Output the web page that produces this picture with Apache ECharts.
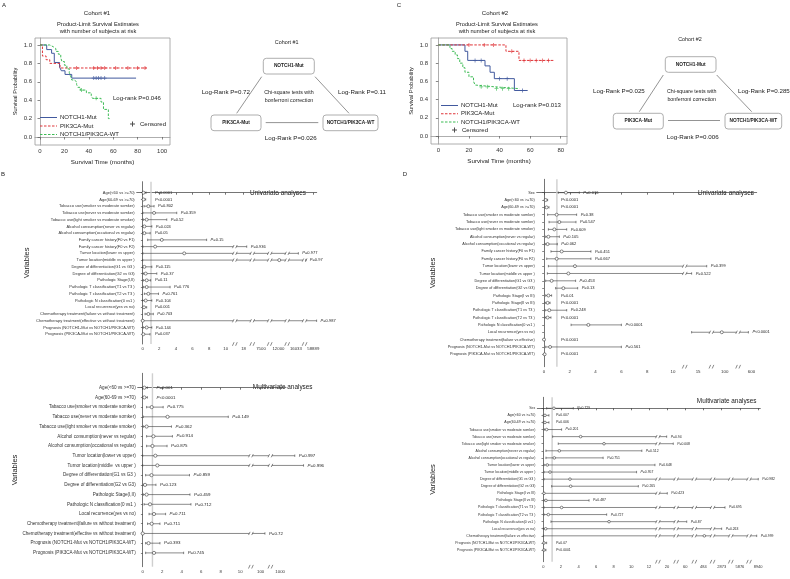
<!DOCTYPE html>
<html><head><meta charset="utf-8">
<script src="https://cdn.jsdelivr.net/npm/echarts@6/dist/echarts.min.js"></script>
<style>html,body{margin:0;padding:0;background:#fff}#c{width:790px;height:579px}</style>
</head><body><div id="c"></div>
<script>
const FF = '"Liberation Sans", Arial, sans-serif';

// ---------- Kaplan-Meier data (time in months, survival probability) ----------
const kmA_notch = [[0,1],[5.5,0.95],[9.5,0.91],[11.7,0.81],[16,0.76],[17.5,0.72],[20.5,0.68],[26,0.64],[78.7,0.64]];
const kmA_pik3ca = [[0,1],[2,0.88],[5,0.84],[8,0.80],[16.4,0.75],[87.4,0.75]];
const kmA_wt = [[0,1],[8,0.98],[11,0.96],[13,0.93],[15,0.9],[17,0.86],[18,0.82],[20,0.78],[22,0.74],[24,0.7],[25,0.66],[26,0.62],[28,0.6],[30,0.57],[31,0.54],[33,0.51],[38,0.48],[42,0.45],[43,0.42],[50,0.38],[52,0.3],[56,0.2],[57,0.2]];
const kmA_censor_notch = [[44,0.64],[46,0.64],[48,0.64],[50,0.64],[53,0.64]];
const kmA_censor_pik3ca = [[30,0.75],[44,0.75],[47,0.75],[50,0.75],[53,0.75],[62,0.75],[72,0.75],[80,0.75],[86,0.75]];
const kmA_censor_wt = [[34,0.51],[46,0.42]];

const kmC_notch = [[0,1],[17.4,0.93],[19.2,0.83],[30.5,0.77],[33.8,0.7],[36.6,0.63],[49.7,0.5],[58.4,0.5]];
const kmC_pik3ca = [[0,1],[44.2,0.93],[52.7,0.83],[76,0.83]];
const kmC_wt = [[0,1],[7.6,0.96],[9,0.93],[11,0.89],[12.5,0.85],[14,0.8],[16,0.75],[17.4,0.7],[20,0.65],[23,0.6],[24,0.56],[25,0.54],[37,0.52],[53,0.52]];
const kmC_censor_notch = [[24,0.83],[28,0.83],[40,0.63],[45,0.63],[55,0.5]];
const kmC_censor_pik3ca = [[20,1],[30,1],[36,1],[48,0.93],[56,0.83],[60,0.83],[64,0.83],[68,0.83],[72,0.83]];
const kmC_censor_wt = [[28,0.54],[32,0.54],[38,0.52],[42,0.52],[46,0.52]];

const kmXTicksA = [0,20,40,60,80,100];
const kmXTicksC = [0,20,40,60,80];
const kmYTicks = [0,0.2,0.4,0.6,0.8,1.0];

// ---------- Forest plots ----------
const refValue = 1;

// B univariate
const bUniLabels = ["Age(<60 vs >=70)","Age(60-69 vs >=70)","Tobacco use(smoker vs moderate somker)","Tobacco use(never vs moderate somker)","Tobacco use(light smoker vs moderate smoker)","Alcohol consumption(never vs regular)","Alcohol consumption(occational vs regular)","Family cancer history(F0 vs F1)","Family cancer history(F0 vs F2)","Tumor location(lower vs upper)","Tumor location(middle vs upper )","Degree of differentiation(G1 vs G3 )","Degree of differentiation(G2 vs G3)","Pathologic Stage(I,II)","Pathologic T classification(T1 vs T3 )","Pathologic T classification(T2 vs T3 )","Pathologic N classification(0 vs1 )","Local recurrence(yes vs no)","Chemotherapy treatment(failure vs without treatment)","Chemotherapy treatment(effective vs without treatment)","Prognosis (NOTCH1-Mut vs NOTCH1/PIK3CA-WT)","Prognosis (PIK3CA-Mut vs NOTCH1/PIK3CA-WT)"];
const bUniEst = [0.1,0.1,0.68,1.37,0.48,0.2,0.2,2.3,1.5,5.0,12000.1,0.2,0.36,0.48,0.48,0.68,0.36,0.16,0.68,0.0,0.48,0.08];
const bUniLo  = [0.01,0.01,0.16,0.02,0.08,0.02,0.02,0.6,0.02,0.02,0.0,0.02,0.08,0.08,0.08,0.2,0.0,0.0,0.28,0.0,0.08,0.0];
const bUniHi  = [0.4,0.36,1.37,4.1,2.9,1.1,0.9,7.7,18.38,16033.3,58888.1,1.1,1.7,0.96,3.3,1.9,1.1,0.48,1.28,58889.4,1.1,0.88];
const bUniP = ["P<0.0001","P<0.0001","P=0.802","P=0.359","P=0.52","P=0.024","P=0.05","P=0.15","P=0.936","P=0.977","P=0.97","P=0.115","P=0.37","P=0.11","P=0.776","P=0.761","P=0.104","P=0.001","P=0.703","P=0.987","P=0.144","P=0.037"];
const bUniLinTicks = [0,2,4,6,8,10];
const bUniBrokenTicks = [18,7500,12000,16033,58889];

// B multivariate
const bMulLabels = ["Age(<60 vs >=70)","Age(60-69 vs >=70)","Tabacco use(smoker vs moderate somker)","Tabacco use(never vs moderate somker)","Tabacco use(light smoker vs moderate smoker)","Alcohol consumption(never vs regular)","Alcohol consumption(occational vs regular)","Tumor location(lower vs upper)","Tumor location(middle  vs upper )","Degree of differentiation(G1 vs G3 )","Degree of differentiation(G2 vs G3)","Pathologic Stage(I,II)","Pathologic N classification(0 vs1 )","Local recurrence(yes vs no)","Chemotherapy treatment(failure vs without treatment)","Chemotherapy treatment(effective vs without treatment)","Prognosis (NOTCH1-Mut vs NOTCH1/PIK3CA-WT)","Prognosis (PIK3CA-Mut vs NOTCH1/PIK3CA-WT)"];
const bMulEst = [0.17,0.17,0.92,2.55,0.4,1.1,1.0,1.3,1.5,0.9,0.24,0.4,0.75,1.16,0.92,0.0,0.6,1.16];
const bMulLo  = [0.0,0.0,0.4,0.07,0.07,0.4,0.4,0.0,0.0,0.3,0.07,0.07,0.14,0.65,0.5,0.0,0.3,0.3];
const bMulHi  = [0.48,0.48,2.1,8.78,2.95,3.05,2.5,1001.5,1002.4,4.8,1.36,4.85,4.95,2.35,1.77,100.44,1.77,4.2];
const bMulP = ["P=0.001","P<0.0001","P=0.775","P=0.149","P=0.362","P=0.914","P=0.875","P=0.997","P=0.996","P=0.859","P=0.123","P=0.459","P=0.712","P=0.711","P=0.711","P=0.72","P=0.393","P=0.745"];
const bMulLinTicks = [0,2,4,6,8,10];
const bMulBrokenTicks = [100,1000];

// D univariate
const dUniLabels = ["Sex","Age(<60 vs >=70)","Age(60-69 vs >=70)","Tobacco use(smoker vs moderate somker)","Tobacco use(never vs moderate somker)","Tobacco use(light smoker vs moderate smoker)","Alcohol consumption(never vs regular)","Alcohol consumption(occational vs regular)","Family cancer history(F0 vs F1)","Family cancer history(F0 vs F2)","Tumor location(lower vs upper)","Tumor location(middle vs upper )","Degree of differentiation(G1 vs G3 )","Degree of differentiation(G2 vs G3)","Pathologic Stage(I vs III)","Pathologic Stage(II vs III)","Pathologic T classification(T1 vs T3 )","Pathologic T classification(T2 vs T3 )","Pathologic N classification(0 vs1 )","Local recurrence(yes vs no)","Chemotherapy treatment(failure vs effective)","Prognosis (NOTCH1-Mut vs NOTCH1/PIK3CA-WT)","Prognosis (PIK3CA-Mut vs NOTCH1/PIK3CA-WT)"];
const dUniEst = [1.7,0.13,0.2,0.98,1.19,0.8,0.34,0.28,1.37,0.98,2.4,1.89,0.59,1.5,0.34,0.28,0.41,0.28,3.44,99.77,0.0,0.47,0.05];
const dUniLo  = [1.11,0.03,0.08,0.28,0.39,0.34,0.13,0.08,0.54,0.21,0.34,0.26,0.13,0.9,0.13,0.08,0.08,0.08,2.1,14.5,0.0,0.13,0.0];
const dUniHi  = [2.74,0.28,0.39,2.53,2.48,1.76,1.19,1.03,3.64,3.64,15.67,14.5,2.45,2.61,0.59,0.47,1.76,0.54,6.0,599.76,0.05,6.0,0.1];
const dUniP = ["P=0.016","P<0.0001","P<0.0001","P=0.38","P=0.547","P=0.609","P=0.105","P=0.062","P=0.451","P=0.667","P=0.399","P=0.522","P=0.453","P=0.13","P=0.01","P<0.0001","P=0.248","P<0.0001","P<0.0001","P<0.0001","P<0.0001","P=0.561","P<0.0001"];
const dUniLinTicks = [0,2,4,6,8,10];
const dUniBrokenTicks = [15,100,600];

// D multivariate
const dMulLabels = ["Sex","Age(<60 vs >=70)","Age(60-69 vs >=70)","Tobacco use(smoker vs moderate somker)","Tobacco use(never vs moderate somker)","Tobacco use(light smoker vs moderate smoker)","Alcohol consumption(never vs regular)","Alcohol consumption(occational vs regular)","Tumor location(lower vs upper)","Tumor location(middle vs upper )","Degree of differentiation(G1 vs G3 )","Degree of differentiation(G2 vs G3)","Pathologic Stage(I vs III)","Pathologic Stage(II vs III)","Pathologic T classification(T1 vs T3 )","Pathologic T classification(T2 vs T3 )","Pathologic N classification(0 vs1 )","Local recurrence(yes vs no)","Chemotherapy treatment(failure vs effective)","Prognosis (NOTCH1-Mut vs NOTCH1/PIK3CA-WT)","Prognosis (PIK3CA-Mut vs NOTCH1/PIK3CA-WT)"];
const dMulEst = [1.21,0.19,0.19,0.38,4.24,6.9,1.82,1.25,0.45,0.76,3.03,3.11,0.08,0.3,2.08,0.57,7.47,0.27,484.1,0.08,0.08];
const dMulLo  = [0.38,0.0,0.0,0.11,1.06,1.7,0.3,0.3,0.08,0.08,0.08,0.95,0.08,0.08,0.08,0.08,0.87,0.0,0.0,0.0,0.0];
const dMulHi  = [3.41,0.64,0.64,2.08,19.96,20.71,11.2,6.8,12.69,10.6,8940.02,10.8,20.03,5.2,2873.38,7.2,60.17,2873.0,8939.84,0.38,0.3];
const dMulP = ["P=0.729","P=0.007","P=0.006","P=0.201","P=0.94","P=0.008","P=0.512","P=0.751","P=0.648","P=0.957","P=0.982","P=0.265","P=0.423","P=0.487","P=0.695","P=0.727","P=0.87","P=0.263","P=0.999","P=0.07","P<0.0001"];
const dMulLinTicks = [0,2,4,6,8,10,12];
const dMulBrokenTicks = [20,60,484,2873,5876,8940];

// ---------- broken-axis scale helper ----------
function makeScale(linEnd, post, segW, gap) {
  const segs = [{r0: -1e6, d0: -1e6, len: linEnd + 1e6}];
  const breaks = [];
  let d = linEnd;
  post.forEach(t => {
    breaks.push(d + gap / 2);
    d += gap;
    segs.push({r0: t - segW / 2, d0: d, len: segW});
    d += segW;
  });
  const toD = v => {
    let s = segs[0];
    for (const g of segs) if (v >= g.r0) s = g;
    let off = v - s.r0;
    if (s !== segs[segs.length - 1] && off > s.len) off = s.len;
    return s.d0 + off;
  };
  return {toD, breaks};
}

const scBU = makeScale(11.0, bUniBrokenTicks, 1.9, 0.2);
const scBM = makeScale(11.0, bMulBrokenTicks, 1.8, 0.2);
const scDU = makeScale(10.85, dUniBrokenTicks, 1.95, 0.12);
const scDM = makeScale(12.95, dMulBrokenTicks, 1.92, 0.15);

const INK = '#3a3a3a';

function forestX(gi, sc, lin, post, min, max, fs) {
  const vals = lin.concat(post.map(t => sc.toD(t)));
  const labs = lin.map(String).concat(post.map(String));
  return {
    type: 'value', gridIndex: gi, min, max,
    splitLine: {show: false},
    axisLine: {show: true, lineStyle: {color: INK, width: 0.7}},
    axisTick: {show: true, customValues: vals, length: 2, lineStyle: {color: INK, width: 0.7}},
    axisLabel: {customValues: vals, fontSize: fs, color: '#333', margin: 3, fontFamily: FF,
      formatter: v => { const k = vals.findIndex(x => Math.abs(x - v) < 1e-6); return k >= 0 ? labs[k] : ''; }}
  };
}
function forestY(gi, labels, min, max, fs, nameGap) {
  const idx = labels.map((_, i) => i);
  return {
    type: 'value', gridIndex: gi, min, max, inverse: true,
    splitLine: {show: false},
    axisLine: {show: true, lineStyle: {color: INK, width: 0.7}},
    axisTick: {show: true, customValues: idx, length: 1.8, lineStyle: {color: INK, width: 0.6}},
    axisLabel: {customValues: idx, fontSize: fs, color: '#333', margin: 2, fontFamily: FF,
      formatter: v => labels[Math.round(v)] || ''},
    name: 'Variables', nameLocation: 'middle', nameGap, nameRotate: 90,
    nameTextStyle: {fontSize: 7.5, color: '#222', fontFamily: FF}
  };
}
function forestSeries(gi, sc, est, lo, hi, pv, fs, r) {
  const refD = sc.toD(refValue);
  return {
    type: 'custom', xAxisIndex: gi, yAxisIndex: gi, silent: true, clip: false, z: 3,
    data: est.map((e, i) => [i, sc.toD(e), sc.toD(lo[i]), sc.toD(hi[i])]),
    encode: {x: [1, 2, 3], y: 0},
    renderItem(params, api) {
      const i = api.value(0), eD = api.value(1), lD = api.value(2), hD = api.value(3);
      const e = api.coord([eD, i]), l = api.coord([lD, i]), h = api.coord([hD, i]);
      const y = e[1];
      const st = {stroke: INK, lineWidth: 0.6};
      const ch = [];
      const bx = sc.breaks.filter(b => b > lD + 0.05 && b < hD - 0.05).map(b => api.coord([b, i])[0]);
      const xs = [l[0]];
      bx.forEach(x => { xs.push(x - 1.6); xs.push(x + 1.6); });
      xs.push(h[0]);
      for (let k = 0; k < xs.length; k += 2) ch.push({type: 'line', shape: {x1: xs[k], y1: y, x2: xs[k + 1], y2: y}, style: st});
      bx.forEach(x => {
        [x - 1.6, x + 1.6].forEach(xx => ch.push({type: 'line', shape: {x1: xx - 0.8, y1: y + 1.6, x2: xx + 0.8, y2: y - 1.6}, style: st}));
      });
      [l[0], h[0]].forEach(xx => ch.push({type: 'line', shape: {x1: xx, y1: y - 1.2, x2: xx, y2: y + 1.2}, style: st}));
      ch.push({type: 'circle', shape: {cx: e[0], cy: y, r}, style: {fill: '#fff', stroke: INK, lineWidth: 0.6}});
      const refX = api.coord([refD, i])[0];
      const p = pv[params.dataIndex];
      ch.push({type: 'text', style: {x: Math.max(h[0], refX) + 4, y, text: '{i|P}{n|' + p.slice(1) + '}',
        verticalAlign: 'middle', align: 'left',
        rich: {i: {fontStyle: 'italic', fontSize: fs, fontFamily: FF, fill: '#222'}, n: {fontSize: fs, fontFamily: FF, fill: '#222'}}}});
      return {type: 'group', children: ch};
    }
  };
}
function refSeries(gi, sc, yMin, yMax) {
  return {
    type: 'custom', xAxisIndex: gi, yAxisIndex: gi, silent: true, clip: false, z: 1,
    data: [[sc.toD(refValue)]], encode: {x: 0},
    renderItem(params, api) {
      const t = api.coord([api.value(0), yMin]), b = api.coord([api.value(0), yMax]);
      return {type: 'line', shape: {x1: t[0], y1: t[1], x2: b[0], y2: b[1]}, style: {stroke: '#cfcfcf', lineWidth: 1.4}};
    }
  };
}
function axisBreakSeries(gi, sc, yMax) {
  return {
    type: 'custom', xAxisIndex: gi, yAxisIndex: gi, silent: true, clip: false, z: 10,
    data: sc.breaks.map(b => [b]), encode: {x: 0},
    renderItem(params, api) {
      const c = api.coord([api.value(0), yMax]);
      const st = {stroke: INK, lineWidth: 0.6};
      return {type: 'group', children: [
        {type: 'rect', shape: {x: c[0] - 1.6, y: c[1] - 1, width: 3.2, height: 2}, style: {fill: '#fff'}},
        {type: 'line', shape: {x1: c[0] - 2.4, y1: c[1] + 1.8, x2: c[0] - 0.8, y2: c[1] - 1.8}, style: st},
        {type: 'line', shape: {x1: c[0] + 0.8, y1: c[1] + 1.8, x2: c[0] + 2.4, y2: c[1] - 1.8}, style: st}
      ]};
    }
  };
}

// ---------- KM helpers ----------
const C_BLUE = '#41599e', C_RED = '#e0363a', C_GREEN = '#3dbb55';
const PLUS = 'path://M4,0H6V4H10V6H6V10H4V6H0V4H4Z';
const ICON_SOLID = 'path://M0,0H17V1H0Z';
const ICON_DASH = 'path://M0,0H2.5V1H0ZM4,0H6.5V1H4ZM8,0H10.5V1H8ZM12,0H14.5V1H12ZM16,0H17V1H16Z';
function kmLine(name, data, color, type, gi) {
  return {type: 'line', name, xAxisIndex: gi, yAxisIndex: gi, data, step: 'end', symbol: 'none', silent: true,
    lineStyle: {color, width: 1, type}, itemStyle: {color}, z: 3};
}
function kmCensor(data, color, gi) {
  return {type: 'scatter', name: 'Censored', xAxisIndex: gi, yAxisIndex: gi, data, symbol: PLUS, symbolSize: 4,
    itemStyle: {color}, silent: true, z: 4};
}
function kmX(gi, min, max, ticks) {
  return {type: 'value', gridIndex: gi, min, max, splitLine: {show: false},
    axisLine: {show: true, lineStyle: {color: '#999', width: 0.8}},
    axisTick: {show: true, customValues: ticks, length: 2.5, lineStyle: {color: '#555', width: 0.7}},
    axisLabel: {customValues: ticks, fontSize: 6, color: '#333', margin: 3, fontFamily: FF},
    name: 'Survival Time (months)', nameLocation: 'middle', nameGap: 14,
    nameTextStyle: {fontSize: 6.2, color: '#222', fontFamily: FF}};
}
function kmY(gi) {
  return {type: 'value', gridIndex: gi, min: -0.087, max: 1.076, splitLine: {show: false},
    axisLine: {show: true, lineStyle: {color: '#999', width: 0.8}},
    axisTick: {show: true, customValues: kmYTicks, length: 2.5, lineStyle: {color: '#555', width: 0.7}},
    axisLabel: {customValues: kmYTicks, fontSize: 6, color: '#333', margin: 3, fontFamily: FF, formatter: v => v.toFixed(1)},
    name: 'Survival Probability', nameLocation: 'middle', nameGap: 17, nameRotate: 90,
    nameTextStyle: {fontSize: 5.6, color: '#222', fontFamily: FF}};
}
const kmLegendData = [
  {name: 'NOTCH1-Mut', icon: ICON_SOLID},
  {name: 'PIK3CA-Mut', icon: ICON_DASH},
  {name: 'NOTCH1/PIK3CA-WT', icon: ICON_DASH}
];

// ---------- graphic annotations ----------
function txt(x, y, text, size, align, weight) {
  return {type: 'text', x, y, silent: true, style: {text, font: (weight || 'normal') + ' ' + size + 'px ' + FF, fill: '#222', align: align || 'center', verticalAlign: 'middle'}};
}
function box(x, y, w, h, label) {
  return [
    {type: 'rect', silent: true, shape: {x, y, width: w, height: h, r: 3}, style: {fill: '#fff', stroke: '#9a9a9a', lineWidth: 0.8}},
    txt(x + w / 2, y + h / 2, label, 4.8, 'center', 'bold')
  ];
}
function seg(x1, y1, x2, y2) {
  return {type: 'line', silent: true, shape: {x1, y1, x2, y2}, style: {stroke: '#666', lineWidth: 0.7}};
}
const graphics = [
  txt(4, 5, 'A', 6, 'center'), txt(3, 174, 'B', 6, 'center'), txt(399, 5, 'C', 6, 'center'), txt(405, 174, 'D', 6, 'center'),
  txt(97, 13, 'Cohort #1', 6), txt(98, 24, 'Product-Limit Survival Estimates', 5.7), txt(98, 31.5, 'with number of subjects at risk', 5.7),
  txt(495, 13.5, 'Cohort #2', 6), txt(497, 24, 'Product-Limit Survival Estimates', 5.7), txt(497, 31.5, 'with number of subjects at risk', 5.7),
  txt(113, 98, 'Log-rank P=0.046', 6, 'left'), txt(513, 105, 'Log-rank P=0.013', 6, 'left'),
  // diagram cohort 1
  txt(286.7, 42.7, 'Cohort #1', 5.4),
  ...box(263.3, 58.3, 51, 15.7, 'NOTCH1-Mut'), ...box(211, 115, 50, 15.7, 'PIK3CA-Mut'), ...box(323, 115, 55, 15.7, 'NOTCH1/PIK3CA-WT'),
  seg(261.7, 76.7, 236.7, 113.3), seg(315, 76.7, 349, 113.3), seg(265.7, 122.6, 318.3, 122.6),
  txt(250, 92, 'Log-Rank P=0.72', 6.2, 'right'), txt(289, 92.7, 'Chi-square tests with', 5.3), txt(289, 100.5, 'bonferroni correction', 5.3),
  txt(338, 92, 'Log-Rank P=0.11', 6.2, 'left'), txt(290.7, 138.7, 'Log-Rank P=0.026', 6.2),
  // diagram cohort 2
  txt(690, 40, 'Cohort #2', 5.4),
  ...box(665.3, 56.7, 50.7, 15.6, 'NOTCH1-Mut'), ...box(613.3, 113.3, 50, 15.7, 'PIK3CA-Mut'), ...box(725, 113.3, 56.7, 15.7, 'NOTCH1/PIK3CA-WT'),
  seg(663.3, 75, 639.3, 111.7), seg(716.7, 75, 751.7, 111.7), seg(668, 120.5, 720, 120.5),
  txt(593, 91, 'Log-Rank P=0.025', 6.2, 'left'), txt(691.7, 92, 'Chi-square tests with', 5.3), txt(691.7, 99.7, 'bonferroni correction', 5.3),
  txt(738, 91, 'Log-Rank P=0.285', 6.2, 'left'), txt(692.7, 137, 'Log-Rank P=0.006', 6.2),
  // forest titles
  txt(278, 193.3, 'Univariate analyses', 6.4), txt(282.7, 387.7, 'Multivariate analyses', 6.4),
  txt(726, 193.3, 'Univariate analyses', 6.4), txt(726.7, 401.7, 'Multivariate analyses', 6.4)
];

// ---------- option ----------
const option = {
  animation: false,
  backgroundColor: '#fff',
  textStyle: {fontFamily: FF},
  grid: [
    {left: 35, top: 38, width: 135, height: 107, show: true, borderColor: '#999', borderWidth: 0.8},
    {left: 431, top: 38, width: 136, height: 106, show: true, borderColor: '#999', borderWidth: 0.8},
    {left: 136.7, top: 181.7, width: 180, height: 162.3},
    {left: 137.7, top: 373.3, width: 148.3, height: 193.4},
    {left: 536.7, top: 179.3, width: 220, height: 187.4},
    {left: 537.3, top: 397.3, width: 223, height: 164.4}
  ],
  xAxis: [
    kmX(0, -4.1, 106.5, kmXTicksA),
    kmX(1, -4.8, 84.1, kmXTicksC),
    forestX(2, scBU, bUniLinTicks, bUniBrokenTicks, -0.723, 20.96, 4.3),
    forestX(3, scBM, bMulLinTicks, bMulBrokenTicks, -0.513, 14.70, 4.3),
    forestX(4, scDU, dUniLinTicks, dUniBrokenTicks, -0.566, 16.49, 4.4),
    forestX(5, scDM, dMulLinTicks, dMulBrokenTicks, -0.682, 24.66, 4.0)
  ],
  yAxis: [
    kmY(0), kmY(1),
    forestY(2, bUniLabels, -1.632, 22.45, 4.0, 106),
    forestY(3, bMulLabels, -1.48, 18.42, 4.6, 110),
    forestY(4, dUniLabels, -1.82, 23.69, 3.8, 100),
    forestY(5, dMulLabels, -1.55, 21.65, 3.5, 100)
  ],
  legend: [
    {left: 40, top: 114.5, orient: 'vertical', padding: 0, itemWidth: 17, itemHeight: 1.2, itemGap: 2.5, selectedMode: false,
      data: kmLegendData, textStyle: {fontSize: 6, color: '#222', fontFamily: FF, padding: [0, 0, 0, -2]}},
    {left: 130, top: 121, padding: 0, itemWidth: 5, itemHeight: 5, selectedMode: false, itemStyle: {color: '#222'},
      data: ['Censored'], textStyle: {fontSize: 6, color: '#222', fontFamily: FF}},
    {left: 441, top: 102.5, orient: 'vertical', padding: 0, itemWidth: 17, itemHeight: 1.2, itemGap: 2.3, selectedMode: false,
      data: kmLegendData, textStyle: {fontSize: 6, color: '#222', fontFamily: FF, padding: [0, 0, 0, -2]}},
    {left: 452, top: 127, padding: 0, itemWidth: 5, itemHeight: 5, selectedMode: false, itemStyle: {color: '#222'},
      data: ['Censored'], textStyle: {fontSize: 6, color: '#222', fontFamily: FF}}
  ],
  series: [
    kmLine('NOTCH1-Mut', kmA_notch, C_BLUE, 'solid', 0),
    kmLine('PIK3CA-Mut', kmA_pik3ca, C_RED, [2.5, 1.5], 0),
    kmLine('NOTCH1/PIK3CA-WT', kmA_wt, C_GREEN, [2.5, 1.5], 0),
    kmCensor(kmA_censor_notch, C_BLUE, 0), kmCensor(kmA_censor_pik3ca, C_RED, 0), kmCensor(kmA_censor_wt, C_GREEN, 0),
    kmLine('NOTCH1-Mut', kmC_notch, C_BLUE, 'solid', 1),
    kmLine('PIK3CA-Mut', kmC_pik3ca, C_RED, [2.5, 1.5], 1),
    kmLine('NOTCH1/PIK3CA-WT', kmC_wt, C_GREEN, [2.5, 1.5], 1),
    kmCensor(kmC_censor_notch, C_BLUE, 1), kmCensor(kmC_censor_pik3ca, C_RED, 1), kmCensor(kmC_censor_wt, C_GREEN, 1),
    refSeries(2, scBU, -1.632, 22.45), forestSeries(2, scBU, bUniEst, bUniLo, bUniHi, bUniP, 4.0, 1.5), axisBreakSeries(2, scBU, 22.45),
    refSeries(3, scBM, -1.48, 18.42), forestSeries(3, scBM, bMulEst, bMulLo, bMulHi, bMulP, 4.4, 1.6), axisBreakSeries(3, scBM, 18.42),
    refSeries(4, scDU, -1.82, 23.69), forestSeries(4, scDU, dUniEst, dUniLo, dUniHi, dUniP, 4.0, 1.5), axisBreakSeries(4, scDU, 23.69),
    refSeries(5, scDM, -1.55, 21.65), forestSeries(5, scDM, dMulEst, dMulLo, dMulHi, dMulP, 3.4, 1.3), axisBreakSeries(5, scDM, 21.65)
  ],
  graphic: graphics
};
const chart = echarts.init(document.getElementById('c'), null, {renderer: 'canvas'});
chart.setOption(option);
</script></body></html>
